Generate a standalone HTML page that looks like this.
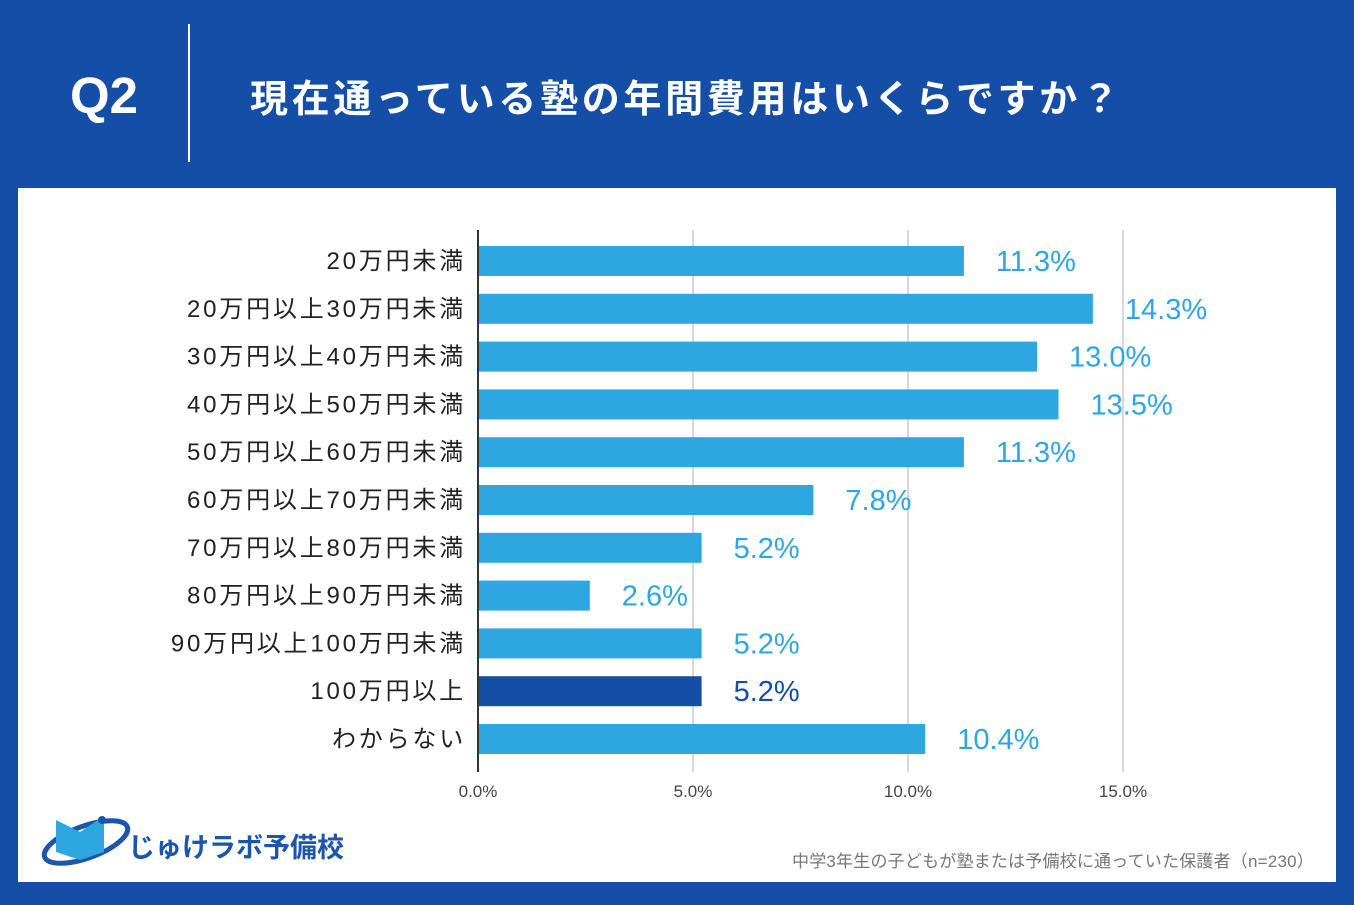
<!DOCTYPE html>
<html><head><meta charset="utf-8"><style>
body{margin:0;width:1354px;height:905px;background:#144ea6;position:relative;overflow:hidden;font-family:"Liberation Sans","Noto Sans CJK JP",sans-serif}
.abs{position:absolute}
</style></head><body>
<div class="abs" style="left:70px;top:66px;color:#fff;font-size:51px;font-weight:bold">Q2</div>
<div class="abs" style="left:188px;top:24px;width:2px;height:138px;background:#fff"></div>
<div class="abs" style="left:250px;top:68px;color:#fff;font-size:38px;font-weight:bold;letter-spacing:3.7px">現在通っている塾の年間費用はいくらですか？</div>
<div class="abs" style="left:18px;top:188px;width:1318px;height:694px;background:#fff"></div>
<svg class="abs" style="left:0;top:0" width="1354" height="905" id="chart"></svg>
<svg class="abs" style="left:38px;top:808px" width="100" height="60">
<ellipse cx="48" cy="34" rx="44" ry="16" fill="none" stroke="#1c56ab" stroke-width="5" transform="rotate(-20 48 34)"/>
<path d="M18 12 L42 24 L66 8 L66 44 L42 52 L18 44Z" fill="#2ea6e0"/>
<circle cx="64" cy="12" r="4" fill="#1c56ab"/>
</svg>
<div class="abs" style="left:128px;top:826px;color:#1c56ab;font-size:27px;font-weight:bold">じゅけラボ予備校</div>
<div class="abs" style="left:792px;top:847px;color:#777;font-size:17px;letter-spacing:0.2px">中学3年生の子どもが塾または予備校に通っていた保護者（n=230）</div>
<script>
const categories=["20万円未満","20万円以上30万円未満","30万円以上40万円未満","40万円以上50万円未満","50万円以上60万円未満","60万円以上70万円未満","70万円以上80万円未満","80万円以上90万円未満","90万円以上100万円未満","100万円以上","わからない"];
const values=[11.3,14.3,13.0,13.5,11.3,7.8,5.2,2.6,5.2,5.2,10.4];
const ticks=[0,5,10,15];
const highlightIndex=9;
const svg=document.getElementById('chart');
const NS='http://www.w3.org/2000/svg';
const x0=478,pxPer=43,yTop=261,step=47.8,bh=30;
const xs=v=>x0+v*pxPer, ys=i=>yTop+i*step;
function mk(t,a){const e=document.createElementNS(NS,t);for(const k in a)e.setAttribute(k,a[k]);svg.appendChild(e);return e;}
ticks.forEach(t=>{
 if(t>0){const g=mk('line',{x1:xs(t),x2:xs(t),y1:230,y2:772,stroke:'#ccc','stroke-width':1.5});
 
 }
 const l=mk('text',{x:xs(t),y:797,'text-anchor':'middle','font-size':17,fill:'#444'});l.textContent=t.toFixed(1)+'%';
 
 
});
categories.forEach((c,i)=>{
 const col=i===highlightIndex?'#144ea6':'#2ea6e0';
 const r=mk('rect',{x:x0,y:ys(i)-bh/2,width:xs(values[i])-x0,height:bh,fill:col});
 
 
 const lab=mk('text',{x:466,y:ys(i)+8,'text-anchor':'end','font-size':24,'letter-spacing':2.8,fill:'#222'});lab.textContent=c;
 
 
 const v=mk('text',{x:xs(values[i])+32,y:ys(i)+10,'font-size':29,fill:col});v.textContent=values[i].toFixed(1)+'%';
 
 
});
const ax=mk('line',{x1:x0,x2:x0,y1:230,y2:772,stroke:'#333','stroke-width':2});


</script>
</body></html>
